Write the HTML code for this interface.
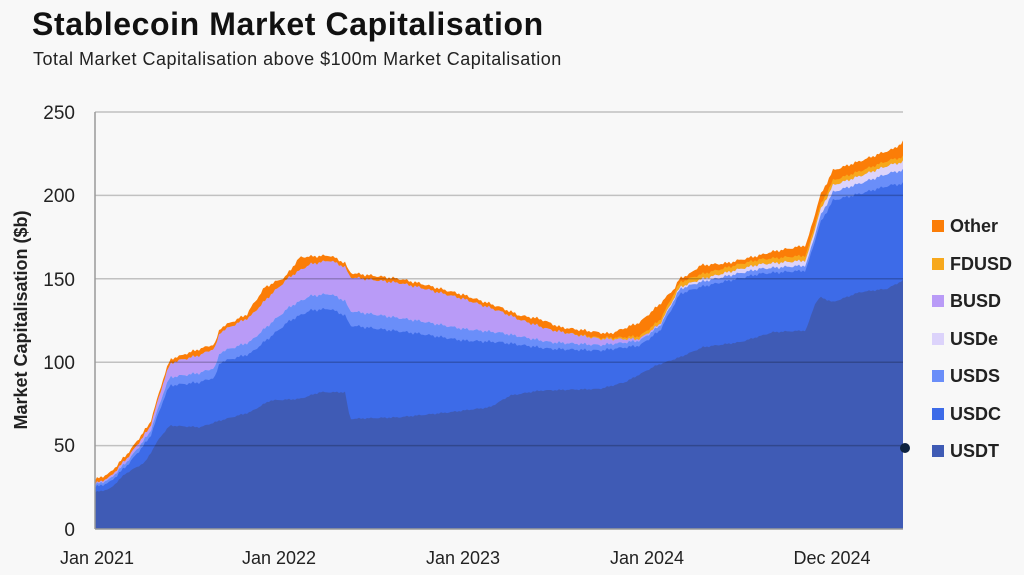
<!DOCTYPE html>
<html><head><meta charset="utf-8"><style>
body{margin:0;background:#f8f8f8;width:1024px;height:575px;overflow:hidden;font-family:"Liberation Sans",sans-serif;}
</style></head><body>
<svg id="s" width="1024" height="575" xmlns="http://www.w3.org/2000/svg" style="position:absolute;left:0;top:0">
<rect width="1024" height="575" fill="#f8f8f8"/>
<text x="32" y="35" font-size="32" font-weight="bold" fill="#111" letter-spacing="0.6">Stablecoin Market Capitalisation</text>
<text x="33" y="65" font-size="18" fill="#222" letter-spacing="0.5">Total Market Capitalisation above $100m Market Capitalisation</text>
<g id="areas"></g>
<g id="grid"></g>
<line x1="95" y1="112" x2="95" y2="529" stroke="#999" stroke-width="1.5"/>
<line x1="95" y1="529" x2="903" y2="529" stroke="#999" stroke-width="1.5"/>
<g font-size="19" fill="#222" text-anchor="end">
<text x="75" y="119">250</text><text x="75" y="202">200</text><text x="75" y="286">150</text>
<text x="75" y="369">100</text><text x="75" y="452">50</text><text x="75" y="536">0</text>
</g>
<text transform="translate(27,320) rotate(-90)" font-size="18" font-weight="bold" fill="#222" text-anchor="middle">Market Capitalisation ($b)</text>
<g font-size="18" fill="#222" text-anchor="middle">
<text x="97" y="564">Jan 2021</text><text x="279" y="564">Jan 2022</text><text x="463" y="564">Jan 2023</text>
<text x="647" y="564">Jan 2024</text><text x="832" y="564">Dec 2024</text>
</g>
<circle cx="905" cy="448" r="5" fill="#0d2240"/>
<g font-size="18" font-weight="bold" fill="#222">
<rect x="932" y="220" width="12" height="12" fill="#fb7d07"/><text x="950" y="232">Other</text>
<rect x="932" y="258" width="12" height="12" fill="#f7a81c"/><text x="950" y="270">FDUSD</text>
<rect x="932" y="295" width="12" height="12" fill="#b99bf7"/><text x="950" y="307">BUSD</text>
<rect x="932" y="333" width="12" height="12" fill="#dcd3fb"/><text x="950" y="345">USDe</text>
<rect x="932" y="370" width="12" height="12" fill="#6a8ef9"/><text x="950" y="382">USDS</text>
<rect x="932" y="408" width="12" height="12" fill="#3d6be8"/><text x="950" y="420">USDC</text>
<rect x="932" y="445" width="12" height="12" fill="#3f5bb5"/><text x="950" y="457">USDT</text>
</g>
</svg>
<script>
function interp(k,x){for(var i=0;i<k.length-1;i++){if(x<=k[i+1][0]){var a=k[i],b=k[i+1],t=(x-a[0])/(b[0]-a[0]);return a[1]+(b[1]-a[1])*t;}}return k[k.length-1][1];}
var usdt=[[95,22],[110,24],[125,33],[145,40],[160,55],[170,62],[200,61],[220,65],[250,70],[270,77],[300,78],[320,82],[345,82],[350,66],[400,67],[450,70],[490,73],[510,80],[540,83],[600,84],[625,88],[656,98],[680,103],[703,109],[740,112],[773,118],[806,119],[815,135],[820,139],[833,136],[860,142],[887,144],[903,149]];
var usdc=[[95,25],[110,28],[130,40],[150,55],[165,80],[170,86],[200,88],[215,91],[220,100],[250,105],[270,115],[290,125],[310,131],[330,132],[345,128],[350,122],[420,117],[463,113],[500,112],[550,108],[600,107],[640,110],[660,119],[680,141],[700,145],[760,153],[806,155],[820,183],[833,197],[860,201],[890,206],[903,207]];
var usds=[[95,1.5],[150,3],[170,5],[220,6],[270,8],[330,9],[400,8],[463,7],[550,4],[620,3],[700,3],[806,3],[833,5],[903,8]];
var usde=[[95,0],[640,0],[680,1],[740,2.5],[806,3],[833,4],[903,5]];
var busd=[[95,0.5],[150,3],[175,9],[220,12],[270,17],[330,20],[400,21],[463,18],[520,10],[580,5],[640,1],[680,0],[903,0]];
var fdusd=[[95,0],[560,0],[620,1],[680,3],[806,3],[903,3]];
var total=[[95,28],[110,32],[125,38],[145,52],[160,78],[172,100],[185,105],[220,112],[222,120],[245,125],[250,132],[265,145],[285,151],[300,163],[330,164],[340,161],[345,156],[365,149],[400,148],[430,142],[463,138],[500,130],[540,126],[560,121],[610,117],[640,124],[660,135],[680,148],[700,158],[740,160],[770,166],[806,170],[815,186],[825,202],[840,207],[850,216],[880,222],[903,232]];
function Y(v){return 529-v*1.668;}
var xs=[];for(var x=95;x<=903;x+=2)xs.push(x);
var layers=[[],[],[],[],[],[],[]];
xs.forEach(function(x){
 var j=Math.sin(x*1.7)*0.6+Math.sin(x*0.53)*0.5;
 var a=interp(usdt,x)+j*0.5, b=Math.max(a,interp(usdc,x)+j), c=b+interp(usds,x), d=c+interp(usde,x), e=d+interp(busd,x), f=e+interp(fdusd,x);
 var g=Math.max(f+(x>800?6:2.5),interp(total,x)+j);
 [a,b,c,d,e,f,g].forEach(function(v,i){layers[i].push(v);});
});
var cols=["#3f5bb5","#3d6be8","#6a8ef9","#dcd3fb","#b99bf7","#f7a81c","#fb7d07"];
var ns="http://www.w3.org/2000/svg",ag=document.getElementById("areas");
for(var i=6;i>=0;i--){var d="M95,529";xs.forEach(function(x,k){d+=" L"+x+","+Y(layers[i][k]).toFixed(1);});d+=" L903,529 Z";
 var p=document.createElementNS(ns,"path");p.setAttribute("d",d);p.setAttribute("fill",cols[i]);ag.appendChild(p);}
var gg=document.getElementById("grid");
[50,100,150,200,250].forEach(function(v){var l=document.createElementNS(ns,"line");l.setAttribute("x1",95);l.setAttribute("x2",903);l.setAttribute("y1",Y(v));l.setAttribute("y2",Y(v));l.setAttribute("stroke","rgba(0,0,0,0.22)");l.setAttribute("stroke-width","1.5");gg.appendChild(l);});
</script>
</body></html>
